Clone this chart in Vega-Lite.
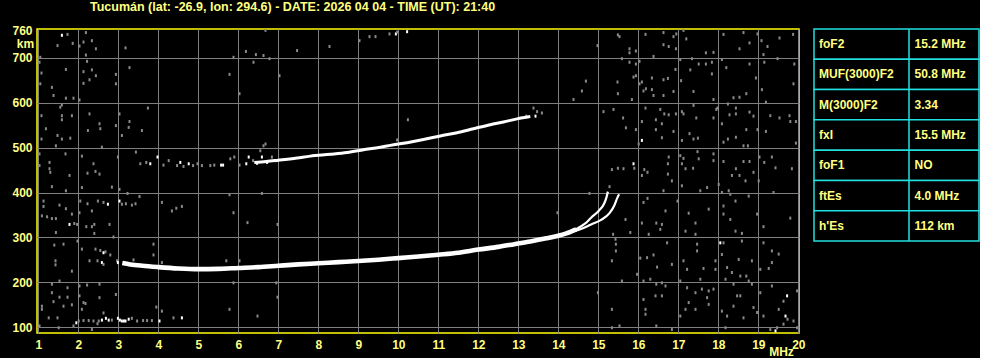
{
  "$schema": "https://vega.github.io/schema/vega-lite/v6.json",
  "background": "black",
  "padding": {"left": 11, "top": 0, "right": 0, "bottom": 0},
  "spacing": 7,
  "config": {"view": {"stroke": null}, "font": "Liberation Sans"},
  "datasets": {
    "table": [
      {"param": "foF2", "value": "15.2 MHz"},
      {"param": "MUF(3000)F2", "value": "50.8 MHz"},
      {"param": "M(3000)F2", "value": "3.34"},
      {"param": "fxI", "value": "15.5 MHz"},
      {"param": "foF1", "value": "NO"},
      {"param": "ftEs", "value": "4.0 MHz"},
      {"param": "h'Es", "value": "112 km"}
    ],
    "traces": [
      {"s": "F", "f": 3.1, "h": 243}, {"s": "F", "f": 3.3, "h": 240}, {"s": "F", "f": 3.6, "h": 237}, {"s": "F", "f": 4.0, "h": 234},
      {"s": "F", "f": 4.5, "h": 231}, {"s": "F", "f": 5.0, "h": 229.5}, {"s": "F", "f": 5.5, "h": 230}, {"s": "F", "f": 6.0, "h": 232},
      {"s": "F", "f": 6.5, "h": 234}, {"s": "F", "f": 7.0, "h": 237}, {"s": "F", "f": 7.5, "h": 240}, {"s": "F", "f": 8.0, "h": 242.5},
      {"s": "F", "f": 8.5, "h": 245}, {"s": "F", "f": 9.0, "h": 247.5}, {"s": "F", "f": 9.5, "h": 250.5}, {"s": "F", "f": 10.0, "h": 254},
      {"s": "F", "f": 10.5, "h": 257.5}, {"s": "F", "f": 11.0, "h": 261.5}, {"s": "F", "f": 11.5, "h": 266}, {"s": "F", "f": 12.0, "h": 273},
      {"s": "F", "f": 12.5, "h": 279}, {"s": "F", "f": 12.9, "h": 285}, {"s": "F", "f": 13.3, "h": 291}, {"s": "F", "f": 13.7, "h": 298},
      {"s": "F", "f": 14.0, "h": 304}, {"s": "F", "f": 14.2, "h": 309}, {"s": "F", "f": 14.45, "h": 318},
      {"s": "O", "f": 14.4, "h": 316}, {"s": "O", "f": 14.57, "h": 325}, {"s": "O", "f": 14.7, "h": 333}, {"s": "O", "f": 14.82, "h": 344},
      {"s": "O", "f": 15.02, "h": 360}, {"s": "O", "f": 15.15, "h": 376}, {"s": "O", "f": 15.2, "h": 388}, {"s": "O", "f": 15.24, "h": 402},
      {"s": "X", "f": 14.4, "h": 314}, {"s": "X", "f": 14.6, "h": 320}, {"s": "X", "f": 14.82, "h": 329}, {"s": "X", "f": 15.07, "h": 339},
      {"s": "X", "f": 15.28, "h": 354}, {"s": "X", "f": 15.4, "h": 371}, {"s": "X", "f": 15.47, "h": 387}, {"s": "X", "f": 15.52, "h": 396},
      {"s": "H", "f": 6.4, "h": 467}, {"s": "H", "f": 6.7, "h": 469}, {"s": "H", "f": 7.0, "h": 472}, {"s": "H", "f": 7.47, "h": 477},
      {"s": "H", "f": 7.8, "h": 481}, {"s": "H", "f": 8.3, "h": 485}, {"s": "H", "f": 8.72, "h": 489}, {"s": "H", "f": 9.13, "h": 495},
      {"s": "H", "f": 9.55, "h": 501}, {"s": "H", "f": 9.8, "h": 505}, {"s": "H", "f": 10.22, "h": 511}, {"s": "H", "f": 10.63, "h": 518},
      {"s": "H", "f": 11.05, "h": 526}, {"s": "H", "f": 11.47, "h": 533}, {"s": "H", "f": 11.88, "h": 542}, {"s": "H", "f": 12.3, "h": 551},
      {"s": "H", "f": 12.63, "h": 557}, {"s": "H", "f": 12.97, "h": 564}, {"s": "H", "f": 13.3, "h": 569}
    ],
    "dots": [
      {"f": 1.59, "h": 750, "k": "w"}, {"f": 1.73, "h": 752, "k": "g"}, {"f": 1.48, "h": 727, "k": "g"}, {"f": 1.86, "h": 732, "k": "g"},
      {"f": 2.19, "h": 756, "k": "g"}, {"f": 2.34, "h": 738, "k": "g"}, {"f": 2.13, "h": 735, "k": "g"}, {"f": 2.03, "h": 726, "k": "g"},
      {"f": 2.44, "h": 720, "k": "g"}, {"f": 3.18, "h": 722, "k": "g"}, {"f": 2.19, "h": 706, "k": "g"}, {"f": 1.05, "h": 701, "k": "g"},
      {"f": 1.03, "h": 690, "k": "g"}, {"f": 2.22, "h": 692, "k": "g"}, {"f": 1.69, "h": 674, "k": "g"}, {"f": 1.08, "h": 666, "k": "g"},
      {"f": 2.13, "h": 669, "k": "g"}, {"f": 2.34, "h": 673, "k": "g"}, {"f": 2.44, "h": 660, "k": "g"}, {"f": 2.94, "h": 663, "k": "g"},
      {"f": 3.28, "h": 678, "k": "g"}, {"f": 1.05, "h": 642, "k": "g"}, {"f": 2.13, "h": 643, "k": "g"}, {"f": 2.28, "h": 651, "k": "g"},
      {"f": 2.94, "h": 642, "k": "g"}, {"f": 1.34, "h": 634, "k": "g"}, {"f": 1.38, "h": 616, "k": "g"}, {"f": 1.69, "h": 610, "k": "g"},
      {"f": 1.88, "h": 610, "k": "g"}, {"f": 2.03, "h": 606, "k": "g"}, {"f": 1.55, "h": 590, "k": "g"}, {"f": 1.59, "h": 595, "k": "g"},
      {"f": 1.08, "h": 571, "k": "g"}, {"f": 1.59, "h": 571, "k": "g"}, {"f": 1.84, "h": 571, "k": "g"}, {"f": 1.59, "h": 562, "k": "g"},
      {"f": 2.28, "h": 575, "k": "g"}, {"f": 3.03, "h": 575, "k": "g"}, {"f": 3.74, "h": 588, "k": "g"}, {"f": 1.19, "h": 542, "k": "g"},
      {"f": 2.53, "h": 553, "k": "g"}, {"f": 2.55, "h": 542, "k": "g"}, {"f": 2.24, "h": 538, "k": "g"}, {"f": 2.94, "h": 549, "k": "g"},
      {"f": 3.26, "h": 545, "k": "g"}, {"f": 3.28, "h": 558, "k": "g"}, {"f": 3.59, "h": 538, "k": "g"}, {"f": 1.48, "h": 527, "k": "g"},
      {"f": 1.80, "h": 521, "k": "g"}, {"f": 1.59, "h": 519, "k": "g"}, {"f": 1.08, "h": 519, "k": "g"}, {"f": 3.09, "h": 527, "k": "g"},
      {"f": 1.44, "h": 504, "k": "g"}, {"f": 2.59, "h": 501, "k": "g"}, {"f": 1.03, "h": 486, "k": "g"}, {"f": 1.68, "h": 486, "k": "g"},
      {"f": 2.09, "h": 481, "k": "g"}, {"f": 2.99, "h": 479, "k": "g"}, {"f": 3.44, "h": 490, "k": "g"}, {"f": 1.28, "h": 467, "k": "g"},
      {"f": 1.28, "h": 453, "k": "g"}, {"f": 1.30, "h": 445, "k": "g"}, {"f": 1.03, "h": 460, "k": "g"}, {"f": 2.38, "h": 464, "k": "g"},
      {"f": 2.43, "h": 447, "k": "g"}, {"f": 2.53, "h": 441, "k": "g"}, {"f": 2.23, "h": 443, "k": "g"}, {"f": 1.78, "h": 438, "k": "g"},
      {"f": 5.88, "h": 701, "k": "g"}, {"f": 6.19, "h": 714, "k": "g"}, {"f": 6.44, "h": 707, "k": "g"}, {"f": 6.63, "h": 705, "k": "g"},
      {"f": 6.78, "h": 698, "k": "g"}, {"f": 6.38, "h": 690, "k": "g"}, {"f": 5.78, "h": 663, "k": "g"}, {"f": 6.03, "h": 620, "k": "g"},
      {"f": 7.03, "h": 660, "k": "g"}, {"f": 6.68, "h": 761, "k": "g"},
      {"f": 3.55, "h": 464, "k": "g"}, {"f": 3.70, "h": 467, "k": "g"}, {"f": 3.80, "h": 464, "k": "w"}, {"f": 3.98, "h": 479, "k": "w"},
      {"f": 4.13, "h": 461, "k": "g"}, {"f": 4.26, "h": 471, "k": "g"}, {"f": 4.47, "h": 460, "k": "g"}, {"f": 4.55, "h": 467, "k": "w"},
      {"f": 4.63, "h": 458, "k": "g"}, {"f": 4.76, "h": 464, "k": "w"}, {"f": 4.87, "h": 460, "k": "g"}, {"f": 4.98, "h": 464, "k": "g"},
      {"f": 5.09, "h": 460, "k": "g"}, {"f": 5.30, "h": 460, "k": "g"}, {"f": 5.40, "h": 461, "k": "g"}, {"f": 5.57, "h": 461, "k": "w"},
      {"f": 5.62, "h": 461, "k": "w"}, {"f": 5.80, "h": 475, "k": "g"}, {"f": 5.90, "h": 479, "k": "g"}, {"f": 6.03, "h": 461, "k": "g"},
      {"f": 6.20, "h": 464, "k": "w"}, {"f": 6.26, "h": 479, "k": "w"}, {"f": 6.37, "h": 471, "k": "g"}, {"f": 6.47, "h": 465, "k": "w"},
      {"f": 6.55, "h": 493, "k": "g"}, {"f": 6.63, "h": 504, "k": "g"}, {"f": 6.68, "h": 508, "k": "g"}, {"f": 6.59, "h": 479, "k": "w"},
      {"f": 6.72, "h": 467, "k": "w"}, {"f": 6.84, "h": 479, "k": "g"}, {"f": 6.93, "h": 471, "k": "w"},
      {"f": 7.47, "h": 716, "k": "g"}, {"f": 8.28, "h": 725, "k": "g"}, {"f": 9.03, "h": 738, "k": "g"}, {"f": 9.28, "h": 747, "k": "g"},
      {"f": 9.43, "h": 747, "k": "g"}, {"f": 9.78, "h": 753, "k": "g"}, {"f": 9.94, "h": 753, "k": "w"}, {"f": 9.97, "h": 757, "k": "g"},
      {"f": 10.22, "h": 758, "k": "w"}, {"f": 10.24, "h": 562, "k": "g"}, {"f": 13.38, "h": 588, "k": "g"}, {"f": 13.47, "h": 580, "k": "g"},
      {"f": 13.59, "h": 577, "k": "g"}, {"f": 13.43, "h": 570, "k": "w"}, {"f": 13.20, "h": 570, "k": "g"}, {"f": 9.97, "h": 517, "k": "g"},
      {"f": 15.49, "h": 751, "k": "g"}, {"f": 15.53, "h": 747, "k": "g"}, {"f": 16.18, "h": 752, "k": "g"}, {"f": 16.63, "h": 756, "k": "g"},
      {"f": 16.88, "h": 747, "k": "g"}, {"f": 16.95, "h": 753, "k": "g"}, {"f": 17.13, "h": 761, "k": "g"}, {"f": 17.20, "h": 742, "k": "g"},
      {"f": 18.13, "h": 752, "k": "g"}, {"f": 18.63, "h": 756, "k": "g"}, {"f": 18.98, "h": 753, "k": "g"}, {"f": 19.87, "h": 752, "k": "g"},
      {"f": 19.53, "h": 744, "k": "g"}, {"f": 14.98, "h": 727, "k": "g"}, {"f": 15.78, "h": 720, "k": "g"}, {"f": 15.78, "h": 711, "k": "g"},
      {"f": 15.94, "h": 715, "k": "g"}, {"f": 16.63, "h": 729, "k": "g"}, {"f": 16.76, "h": 725, "k": "g"}, {"f": 16.94, "h": 720, "k": "g"},
      {"f": 17.69, "h": 711, "k": "g"}, {"f": 17.88, "h": 712, "k": "g"}, {"f": 18.53, "h": 720, "k": "g"}, {"f": 18.78, "h": 733, "k": "g"},
      {"f": 19.08, "h": 738, "k": "g"}, {"f": 19.23, "h": 725, "k": "g"}, {"f": 19.13, "h": 707, "k": "g"}, {"f": 16.38, "h": 703, "k": "g"},
      {"f": 15.59, "h": 698, "k": "g"}, {"f": 15.78, "h": 690, "k": "g"}, {"f": 15.94, "h": 686, "k": "g"}, {"f": 16.03, "h": 692, "k": "g"},
      {"f": 17.05, "h": 696, "k": "g"}, {"f": 17.34, "h": 698, "k": "g"}, {"f": 17.51, "h": 686, "k": "g"}, {"f": 17.69, "h": 686, "k": "g"},
      {"f": 17.84, "h": 690, "k": "g"}, {"f": 17.84, "h": 664, "k": "g"}, {"f": 18.09, "h": 696, "k": "g"}, {"f": 18.20, "h": 678, "k": "g"},
      {"f": 18.78, "h": 686, "k": "g"}, {"f": 19.15, "h": 690, "k": "g"}, {"f": 19.48, "h": 698, "k": "g"}, {"f": 19.90, "h": 686, "k": "g"},
      {"f": 16.93, "h": 674, "k": "g"}, {"f": 17.07, "h": 649, "k": "g"}, {"f": 17.30, "h": 673, "k": "g"}, {"f": 16.74, "h": 654, "k": "g"},
      {"f": 16.63, "h": 651, "k": "g"}, {"f": 16.34, "h": 655, "k": "g"}, {"f": 16.09, "h": 646, "k": "g"}, {"f": 15.94, "h": 660, "k": "g"},
      {"f": 15.88, "h": 657, "k": "g"}, {"f": 15.48, "h": 646, "k": "g"}, {"f": 15.49, "h": 620, "k": "g"}, {"f": 14.69, "h": 648, "k": "g"},
      {"f": 14.59, "h": 626, "k": "g"}, {"f": 14.38, "h": 607, "k": "g"}, {"f": 15.84, "h": 607, "k": "g"}, {"f": 16.03, "h": 642, "k": "g"},
      {"f": 16.13, "h": 626, "k": "g"}, {"f": 16.19, "h": 631, "k": "g"}, {"f": 16.34, "h": 629, "k": "g"}, {"f": 16.38, "h": 616, "k": "g"},
      {"f": 16.63, "h": 616, "k": "g"}, {"f": 16.88, "h": 625, "k": "g"}, {"f": 17.38, "h": 625, "k": "g"}, {"f": 17.88, "h": 607, "k": "g"},
      {"f": 18.38, "h": 611, "k": "g"}, {"f": 18.53, "h": 612, "k": "g"}, {"f": 18.70, "h": 620, "k": "g"}, {"f": 18.94, "h": 655, "k": "g"},
      {"f": 19.09, "h": 629, "k": "g"}, {"f": 19.19, "h": 601, "k": "g"}, {"f": 19.88, "h": 642, "k": "g"}, {"f": 15.13, "h": 580, "k": "g"},
      {"f": 15.38, "h": 585, "k": "g"}, {"f": 15.62, "h": 566, "k": "g"}, {"f": 15.69, "h": 544, "k": "g"}, {"f": 15.94, "h": 540, "k": "g"},
      {"f": 16.09, "h": 516, "k": "w"}, {"f": 16.01, "h": 508, "k": "g"}, {"f": 16.18, "h": 588, "k": "g"}, {"f": 16.09, "h": 558, "k": "g"},
      {"f": 16.44, "h": 562, "k": "g"}, {"f": 16.59, "h": 553, "k": "g"}, {"f": 16.55, "h": 585, "k": "g"}, {"f": 16.65, "h": 575, "k": "g"},
      {"f": 16.76, "h": 573, "k": "g"}, {"f": 16.94, "h": 575, "k": "g"}, {"f": 17.09, "h": 580, "k": "g"}, {"f": 17.13, "h": 575, "k": "g"},
      {"f": 17.38, "h": 594, "k": "g"}, {"f": 17.45, "h": 566, "k": "g"}, {"f": 17.88, "h": 566, "k": "g"}, {"f": 17.95, "h": 585, "k": "g"},
      {"f": 17.98, "h": 588, "k": "g"}, {"f": 18.24, "h": 597, "k": "g"}, {"f": 18.44, "h": 588, "k": "g"}, {"f": 18.44, "h": 575, "k": "g"},
      {"f": 18.28, "h": 573, "k": "g"}, {"f": 18.78, "h": 579, "k": "g"}, {"f": 18.88, "h": 570, "k": "g"}, {"f": 19.30, "h": 571, "k": "g"},
      {"f": 19.53, "h": 566, "k": "g"}, {"f": 19.78, "h": 571, "k": "g"}, {"f": 19.94, "h": 558, "k": "g"}, {"f": 19.80, "h": 558, "k": "g"},
      {"f": 18.09, "h": 553, "k": "g"}, {"f": 18.70, "h": 540, "k": "g"}, {"f": 18.98, "h": 540, "k": "g"}, {"f": 19.19, "h": 536, "k": "g"},
      {"f": 16.44, "h": 540, "k": "g"}, {"f": 16.59, "h": 522, "k": "g"}, {"f": 16.88, "h": 536, "k": "g"}, {"f": 17.28, "h": 531, "k": "g"},
      {"f": 17.38, "h": 519, "k": "g"}, {"f": 17.49, "h": 521, "k": "g"}, {"f": 17.09, "h": 516, "k": "g"}, {"f": 18.13, "h": 512, "k": "g"},
      {"f": 18.24, "h": 519, "k": "g"}, {"f": 18.44, "h": 523, "k": "g"}, {"f": 18.63, "h": 504, "k": "g"}, {"f": 18.74, "h": 504, "k": "g"},
      {"f": 19.94, "h": 510, "k": "g"}, {"f": 16.76, "h": 479, "k": "g"}, {"f": 16.74, "h": 464, "k": "g"}, {"f": 16.74, "h": 441, "k": "g"},
      {"f": 17.05, "h": 482, "k": "g"}, {"f": 17.13, "h": 476, "k": "g"}, {"f": 17.09, "h": 464, "k": "g"}, {"f": 17.18, "h": 453, "k": "g"},
      {"f": 17.37, "h": 454, "k": "g"}, {"f": 17.48, "h": 491, "k": "g"}, {"f": 17.51, "h": 475, "k": "g"}, {"f": 17.88, "h": 486, "k": "g"},
      {"f": 17.88, "h": 471, "k": "g"}, {"f": 18.13, "h": 469, "k": "g"}, {"f": 18.44, "h": 453, "k": "g"}, {"f": 18.63, "h": 469, "k": "g"},
      {"f": 18.78, "h": 469, "k": "g"}, {"f": 19.03, "h": 479, "k": "g"}, {"f": 19.34, "h": 479, "k": "g"}, {"f": 19.15, "h": 467, "k": "g"},
      {"f": 19.43, "h": 455, "k": "g"}, {"f": 18.88, "h": 445, "k": "g"}, {"f": 18.53, "h": 438, "k": "g"}, {"f": 18.34, "h": 438, "k": "g"},
      {"f": 15.63, "h": 453, "k": "g"}, {"f": 15.49, "h": 454, "k": "g"}, {"f": 15.34, "h": 451, "k": "g"}, {"f": 15.88, "h": 464, "k": "w"},
      {"f": 15.90, "h": 454, "k": "g"}, {"f": 16.15, "h": 451, "k": "g"}, {"f": 16.23, "h": 445, "k": "g"}, {"f": 16.09, "h": 438, "k": "g"},
      {"f": 19.84, "h": 453, "k": "g"},
      {"f": 1.34, "h": 413, "k": "g"}, {"f": 1.69, "h": 404, "k": "g"}, {"f": 2.09, "h": 411, "k": "g"}, {"f": 2.84, "h": 412, "k": "g"},
      {"f": 3.03, "h": 407, "k": "g"}, {"f": 3.23, "h": 398, "k": "g"}, {"f": 1.13, "h": 381, "k": "g"}, {"f": 1.13, "h": 369, "k": "g"},
      {"f": 1.53, "h": 372, "k": "g"}, {"f": 1.69, "h": 364, "k": "g"}, {"f": 2.05, "h": 381, "k": "g"}, {"f": 2.23, "h": 375, "k": "g"},
      {"f": 2.49, "h": 381, "k": "g"}, {"f": 2.63, "h": 378, "k": "g"}, {"f": 2.74, "h": 374, "k": "w"}, {"f": 3.03, "h": 381, "k": "w"},
      {"f": 3.09, "h": 374, "k": "g"}, {"f": 3.19, "h": 375, "k": "g"}, {"f": 3.34, "h": 372, "k": "g"}, {"f": 3.43, "h": 375, "k": "g"},
      {"f": 3.53, "h": 391, "k": "g"}, {"f": 4.09, "h": 378, "k": "g"}, {"f": 1.09, "h": 348, "k": "g"}, {"f": 1.22, "h": 346, "k": "g"},
      {"f": 1.34, "h": 342, "k": "g"}, {"f": 1.44, "h": 342, "k": "g"}, {"f": 1.84, "h": 352, "k": "g"}, {"f": 1.90, "h": 331, "k": "g"},
      {"f": 1.78, "h": 329, "k": "w"}, {"f": 1.97, "h": 329, "k": "g"}, {"f": 2.20, "h": 324, "k": "g"}, {"f": 2.34, "h": 324, "k": "g"},
      {"f": 2.40, "h": 329, "k": "g"}, {"f": 2.78, "h": 329, "k": "g"}, {"f": 1.44, "h": 311, "k": "g"}, {"f": 2.40, "h": 309, "k": "g"},
      {"f": 2.88, "h": 301, "k": "g"}, {"f": 2.03, "h": 355, "k": "g"}, {"f": 2.34, "h": 359, "k": "g"}, {"f": 5.78, "h": 395, "k": "g"},
      {"f": 6.59, "h": 398, "k": "g"}, {"f": 5.88, "h": 355, "k": "g"}, {"f": 6.23, "h": 333, "k": "g"}, {"f": 6.98, "h": 329, "k": "g"},
      {"f": 4.34, "h": 359, "k": "g"}, {"f": 4.45, "h": 365, "k": "g"}, {"f": 4.59, "h": 369, "k": "g"}, {"f": 1.40, "h": 283, "k": "g"},
      {"f": 1.63, "h": 285, "k": "g"}, {"f": 1.98, "h": 292, "k": "g"}, {"f": 2.09, "h": 274, "k": "g"}, {"f": 2.43, "h": 274, "k": "g"},
      {"f": 2.55, "h": 271, "k": "g"}, {"f": 2.68, "h": 268, "k": "g"}, {"f": 2.63, "h": 266, "k": "w"}, {"f": 2.80, "h": 261, "k": "g"},
      {"f": 3.88, "h": 285, "k": "g"}, {"f": 3.88, "h": 261, "k": "g"}, {"f": 1.43, "h": 248, "k": "g"}, {"f": 1.43, "h": 239, "k": "g"},
      {"f": 1.84, "h": 225, "k": "g"}, {"f": 2.28, "h": 248, "k": "g"}, {"f": 2.48, "h": 248, "k": "g"}, {"f": 2.59, "h": 244, "k": "w"},
      {"f": 2.63, "h": 240, "k": "g"}, {"f": 2.97, "h": 248, "k": "g"}, {"f": 2.99, "h": 244, "k": "w"}, {"f": 3.15, "h": 244, "k": "g"},
      {"f": 3.38, "h": 250, "k": "g"}, {"f": 4.09, "h": 244, "k": "g"}, {"f": 5.70, "h": 248, "k": "g"}, {"f": 6.03, "h": 248, "k": "g"},
      {"f": 1.53, "h": 203, "k": "g"}, {"f": 1.34, "h": 196, "k": "g"}, {"f": 1.73, "h": 188, "k": "g"}, {"f": 2.03, "h": 192, "k": "g"},
      {"f": 2.22, "h": 194, "k": "g"}, {"f": 2.53, "h": 196, "k": "g"}, {"f": 1.34, "h": 177, "k": "g"}, {"f": 1.53, "h": 167, "k": "g"},
      {"f": 1.73, "h": 167, "k": "g"}, {"f": 2.03, "h": 170, "k": "g"}, {"f": 2.53, "h": 166, "k": "g"}, {"f": 2.94, "h": 173, "k": "g"},
      {"f": 1.09, "h": 147, "k": "g"}, {"f": 1.09, "h": 140, "k": "g"}, {"f": 1.38, "h": 157, "k": "g"}, {"f": 1.63, "h": 147, "k": "g"},
      {"f": 1.84, "h": 150, "k": "g"}, {"f": 2.13, "h": 155, "k": "g"}, {"f": 2.18, "h": 153, "k": "g"}, {"f": 3.95, "h": 145, "k": "g"},
      {"f": 4.09, "h": 136, "k": "g"}, {"f": 5.78, "h": 140, "k": "g"}, {"f": 6.48, "h": 125, "k": "g"}, {"f": 6.98, "h": 167, "k": "g"},
      {"f": 5.88, "h": 199, "k": "g"}, {"f": 6.95, "h": 199, "k": "g"}, {"f": 1.03, "h": 103, "k": "g"}, {"f": 1.51, "h": 99, "k": "g"},
      {"f": 1.88, "h": 103, "k": "g"}, {"f": 2.34, "h": 95, "k": "g"}, {"f": 2.48, "h": 108, "k": "g"}, {"f": 2.63, "h": 132, "k": "g"},
      {"f": 2.09, "h": 140, "k": "g"}, {"f": 1.48, "h": 121, "k": "g"}, {"f": 1.26, "h": 121, "k": "g"},
      {"f": 1.95, "h": 110, "k": "w"}, {"f": 2.01, "h": 114, "k": "g"}, {"f": 2.13, "h": 115, "k": "g"}, {"f": 2.26, "h": 115, "k": "g"},
      {"f": 2.38, "h": 114, "k": "g"}, {"f": 2.51, "h": 114, "k": "g"}, {"f": 2.59, "h": 116, "k": "w"}, {"f": 2.69, "h": 120, "k": "w"},
      {"f": 2.76, "h": 116, "k": "w"}, {"f": 2.84, "h": 116, "k": "g"}, {"f": 2.99, "h": 120, "k": "w"}, {"f": 3.04, "h": 116, "k": "w"},
      {"f": 3.09, "h": 114, "k": "w"}, {"f": 3.14, "h": 114, "k": "w"}, {"f": 3.18, "h": 114, "k": "w"}, {"f": 3.26, "h": 118, "k": "w"},
      {"f": 3.34, "h": 120, "k": "g"}, {"f": 3.47, "h": 114, "k": "g"}, {"f": 3.62, "h": 115, "k": "g"}, {"f": 3.72, "h": 115, "k": "g"},
      {"f": 3.84, "h": 115, "k": "g"}, {"f": 4.03, "h": 114, "k": "w"}, {"f": 4.38, "h": 121, "k": "g"}, {"f": 4.59, "h": 121, "k": "w"},
      {"f": 15.28, "h": 413, "k": "g"}, {"f": 14.78, "h": 398, "k": "g"}, {"f": 13.98, "h": 355, "k": "g"}, {"f": 15.68, "h": 340, "k": "g"},
      {"f": 15.80, "h": 311, "k": "g"}, {"f": 15.37, "h": 307, "k": "g"}, {"f": 15.43, "h": 296, "k": "g"}, {"f": 15.44, "h": 285, "k": "g"},
      {"f": 15.44, "h": 270, "k": "g"}, {"f": 15.34, "h": 248, "k": "g"}, {"f": 15.59, "h": 203, "k": "g"}, {"f": 14.99, "h": 177, "k": "g"},
      {"f": 15.34, "h": 140, "k": "g"}, {"f": 15.53, "h": 103, "k": "g"}, {"f": 15.34, "h": 99, "k": "g"}, {"f": 16.13, "h": 378, "k": "g"},
      {"f": 16.23, "h": 387, "k": "g"}, {"f": 16.45, "h": 332, "k": "g"}, {"f": 16.59, "h": 329, "k": "g"}, {"f": 16.09, "h": 332, "k": "g"},
      {"f": 16.26, "h": 307, "k": "g"}, {"f": 16.55, "h": 318, "k": "g"}, {"f": 16.63, "h": 404, "k": "g"}, {"f": 16.84, "h": 426, "k": "g"},
      {"f": 17.09, "h": 415, "k": "g"}, {"f": 17.55, "h": 404, "k": "g"}, {"f": 17.72, "h": 411, "k": "g"}, {"f": 18.01, "h": 418, "k": "g"},
      {"f": 18.26, "h": 404, "k": "g"}, {"f": 18.30, "h": 396, "k": "g"}, {"f": 18.68, "h": 426, "k": "g"}, {"f": 18.76, "h": 392, "k": "g"},
      {"f": 19.01, "h": 426, "k": "g"}, {"f": 19.38, "h": 400, "k": "g"}, {"f": 16.98, "h": 381, "k": "g"}, {"f": 16.68, "h": 359, "k": "g"},
      {"f": 17.26, "h": 354, "k": "g"}, {"f": 17.43, "h": 332, "k": "g"}, {"f": 17.18, "h": 314, "k": "g"}, {"f": 17.43, "h": 307, "k": "g"},
      {"f": 17.76, "h": 363, "k": "g"}, {"f": 18.13, "h": 352, "k": "g"}, {"f": 18.30, "h": 340, "k": "g"}, {"f": 18.43, "h": 314, "k": "g"},
      {"f": 18.59, "h": 309, "k": "g"}, {"f": 18.97, "h": 352, "k": "g"}, {"f": 19.13, "h": 324, "k": "g"}, {"f": 19.80, "h": 343, "k": "g"},
      {"f": 18.05, "h": 288, "k": "w"}, {"f": 18.13, "h": 288, "k": "g"}, {"f": 18.59, "h": 292, "k": "g"}, {"f": 19.13, "h": 288, "k": "g"},
      {"f": 19.34, "h": 270, "k": "g"}, {"f": 19.51, "h": 263, "k": "g"}, {"f": 18.84, "h": 248, "k": "g"}, {"f": 18.51, "h": 251, "k": "g"},
      {"f": 18.09, "h": 262, "k": "g"}, {"f": 17.93, "h": 248, "k": "g"}, {"f": 17.47, "h": 285, "k": "g"}, {"f": 17.47, "h": 270, "k": "g"},
      {"f": 17.13, "h": 248, "k": "g"}, {"f": 16.72, "h": 288, "k": "g"}, {"f": 16.38, "h": 261, "k": "g"}, {"f": 16.05, "h": 254, "k": "g"},
      {"f": 16.22, "h": 255, "k": "g"}, {"f": 16.47, "h": 234, "k": "g"}, {"f": 16.84, "h": 240, "k": "g"}, {"f": 17.22, "h": 229, "k": "g"},
      {"f": 17.63, "h": 231, "k": "g"}, {"f": 17.93, "h": 229, "k": "g"}, {"f": 18.22, "h": 233, "k": "g"}, {"f": 18.34, "h": 222, "k": "g"},
      {"f": 18.55, "h": 214, "k": "g"}, {"f": 18.70, "h": 214, "k": "g"}, {"f": 19.05, "h": 229, "k": "g"}, {"f": 19.26, "h": 231, "k": "g"},
      {"f": 19.34, "h": 244, "k": "g"}, {"f": 15.97, "h": 218, "k": "g"}, {"f": 16.13, "h": 203, "k": "g"}, {"f": 16.30, "h": 207, "k": "g"},
      {"f": 16.45, "h": 196, "k": "g"}, {"f": 16.59, "h": 199, "k": "g"}, {"f": 16.68, "h": 192, "k": "g"}, {"f": 17.05, "h": 203, "k": "g"},
      {"f": 17.22, "h": 188, "k": "g"}, {"f": 17.43, "h": 177, "k": "g"}, {"f": 17.55, "h": 207, "k": "g"}, {"f": 17.59, "h": 185, "k": "g"},
      {"f": 17.76, "h": 181, "k": "g"}, {"f": 17.88, "h": 185, "k": "g"}, {"f": 18.18, "h": 207, "k": "g"}, {"f": 18.38, "h": 196, "k": "g"},
      {"f": 18.47, "h": 170, "k": "g"}, {"f": 18.55, "h": 170, "k": "g"}, {"f": 18.76, "h": 203, "k": "g"}, {"f": 18.84, "h": 196, "k": "g"},
      {"f": 19.05, "h": 177, "k": "g"}, {"f": 19.34, "h": 192, "k": "g"}, {"f": 19.97, "h": 181, "k": "g"}, {"f": 16.13, "h": 162, "k": "g"},
      {"f": 16.59, "h": 170, "k": "g"}, {"f": 16.43, "h": 170, "k": "g"}, {"f": 16.18, "h": 140, "k": "g"}, {"f": 16.18, "h": 129, "k": "g"},
      {"f": 16.45, "h": 103, "k": "g"}, {"f": 16.84, "h": 95, "k": "g"}, {"f": 17.05, "h": 125, "k": "g"}, {"f": 17.18, "h": 140, "k": "g"},
      {"f": 17.26, "h": 155, "k": "g"}, {"f": 17.43, "h": 140, "k": "g"}, {"f": 17.72, "h": 166, "k": "g"}, {"f": 17.76, "h": 151, "k": "g"},
      {"f": 18.09, "h": 136, "k": "g"}, {"f": 18.22, "h": 125, "k": "g"}, {"f": 18.18, "h": 99, "k": "g"}, {"f": 18.38, "h": 147, "k": "g"},
      {"f": 18.88, "h": 144, "k": "g"}, {"f": 18.97, "h": 133, "k": "g"}, {"f": 18.63, "h": 121, "k": "g"}, {"f": 19.13, "h": 125, "k": "g"},
      {"f": 19.51, "h": 140, "k": "g"}, {"f": 19.63, "h": 158, "k": "g"}, {"f": 19.72, "h": 170, "k": "w"}, {"f": 19.68, "h": 125, "k": "w"},
      {"f": 19.73, "h": 118, "k": "g"}, {"f": 19.63, "h": 107, "k": "g"}, {"f": 19.47, "h": 99, "k": "g"}, {"f": 19.30, "h": 95, "k": "g"},
      {"f": 19.43, "h": 92, "k": "w"}, {"f": 19.88, "h": 114, "k": "g"}, {"f": 19.97, "h": 99, "k": "g"}, {"f": 18.09, "h": 400, "k": "g"},
      {"f": 18.13, "h": 370, "k": "g"}, {"f": 18.43, "h": 381, "k": "g"}
    ]
  },
  "hconcat": [
    {
      "width": 762,
      "height": 304,
      "title": {
        "text": "Tucumán (lat: -26.9, lon: 294.6) - DATE: 2026 04 04 - TIME (UT): 21:40",
        "anchor": "start", "dx": 78, "offset": 11,
        "color": "#FFFF80", "font": "Liberation Sans", "fontSize": 12.5, "fontWeight": "bold"
      },
      "view": {"stroke": "#FFFF00", "strokeWidth": 1.5, "fill": "black"},
      "encoding": {
        "x": {
          "field": "f", "type": "quantitative",
          "scale": {"domain": [0.9675, 20.0175], "nice": false, "zero": false},
          "axis": {
            "values": [1, 2, 3, 4, 5, 6, 7, 8, 9, 10, 11, 12, 13, 14, 15, 16, 17, 18, 19, 20],
            "ticks": false, "domain": false, "grid": true, "gridColor": "#808080", "gridWidth": 1,
            "labelColor": "#FFFF80", "labelFont": "Liberation Sans", "labelFontSize": 12, "labelFontWeight": "bold",
            "labelPadding": 6, "labelFlush": false, "labelOverlap": false,
            "title": "MHz", "titleColor": "#FFFF80", "titleFont": "Liberation Sans", "titleFontSize": 12, "titleFontWeight": "bold",
            "titleX": 744, "titleY": 18, "titleAlign": "center", "titleBaseline": "middle"
          }
        },
        "y": {
          "field": "h", "type": "quantitative",
          "scale": {"domain": [87.3, 764], "nice": false, "zero": false},
          "axis": {
            "values": [100, 200, 300, 400, 500, 600, 700, 760],
            "ticks": false, "domain": false, "grid": true, "gridColor": "#808080", "gridWidth": 1,
            "gridOpacity": {"condition": {"test": "datum.value == 760", "value": 0}, "value": 1},
            "labelColor": "#FFFF80", "labelFont": "Liberation Sans", "labelFontSize": 12, "labelFontWeight": "bold",
            "labelPadding": 5, "labelFlush": false, "labelOverlap": false,
            "title": "km", "titleColor": "#FFFF80", "titleFont": "Liberation Sans", "titleFontSize": 12, "titleFontWeight": "bold",
            "titleAngle": 0, "titleX": -12, "titleY": 14, "titleAlign": "center", "titleBaseline": "middle"
          }
        }
      },
      "layer": [
        {
          "data": {"name": "dots"},
          "mark": {"type": "point", "shape": "M-0.667,-1H0.667V1H-0.667Z", "size": 9, "opacity": 1, "filled": true, "strokeWidth": 0},
          "encoding": {
            "color": {"field": "k", "type": "nominal", "scale": {"domain": ["g", "w"], "range": ["#8a8a8a", "#ffffff"]}, "legend": null}
          }
        },
        {
          "data": {"name": "traces"},
          "transform": [{"filter": {"field": "s", "equal": "F"}}],
          "mark": {"type": "line", "color": "#ffffff", "strokeWidth": 4.6, "interpolate": "monotone"},
          "encoding": {}
        },
        {
          "data": {"name": "traces"},
          "transform": [{"filter": {"field": "s", "oneOf": ["O", "X"]}}],
          "mark": {"type": "line", "color": "#ffffff", "strokeWidth": 2.2, "interpolate": "monotone"},
          "encoding": {"detail": {"field": "s", "type": "nominal"}}
        },
        {
          "data": {"name": "traces"},
          "transform": [{"filter": {"field": "s", "equal": "H"}}],
          "mark": {"type": "line", "color": "#ffffff", "strokeWidth": 3, "interpolate": "monotone"},
          "encoding": {}
        }
      ]
    },
    {
      "width": 165,
      "height": 212,
      "data": {"name": "table"},
      "layer": [
        {
          "mark": {"type": "rect", "fill": "black", "stroke": "#20E0E0", "strokeWidth": 1.5},
          "encoding": {
            "y": {"field": "param", "type": "nominal", "sort": null, "axis": null, "scale": {"paddingInner": 0, "paddingOuter": 0}},
            "x": {"datum": 0, "type": "quantitative", "scale": {"domain": [0, 165], "nice": false}, "axis": null},
            "x2": {"datum": 165}
          }
        },
        {
          "data": {"values": [{}]},
          "mark": {"type": "rule", "color": "#20E0E0", "strokeWidth": 1.5},
          "encoding": {"x": {"datum": 95, "type": "quantitative"}}
        },
        {
          "mark": {"type": "text", "align": "left", "baseline": "middle", "color": "#FFFF80", "font": "Liberation Sans", "fontSize": 12, "fontWeight": "bold"},
          "encoding": {
            "y": {"field": "param", "type": "nominal", "sort": null},
            "x": {"datum": 5, "type": "quantitative"},
            "text": {"field": "param"}
          }
        },
        {
          "mark": {"type": "text", "align": "left", "baseline": "middle", "color": "#FFFF80", "font": "Liberation Sans", "fontSize": 12, "fontWeight": "bold"},
          "encoding": {
            "y": {"field": "param", "type": "nominal", "sort": null},
            "x": {"datum": 100.5, "type": "quantitative"},
            "text": {"field": "value"}
          }
        }
      ]
    }
  ]
}
